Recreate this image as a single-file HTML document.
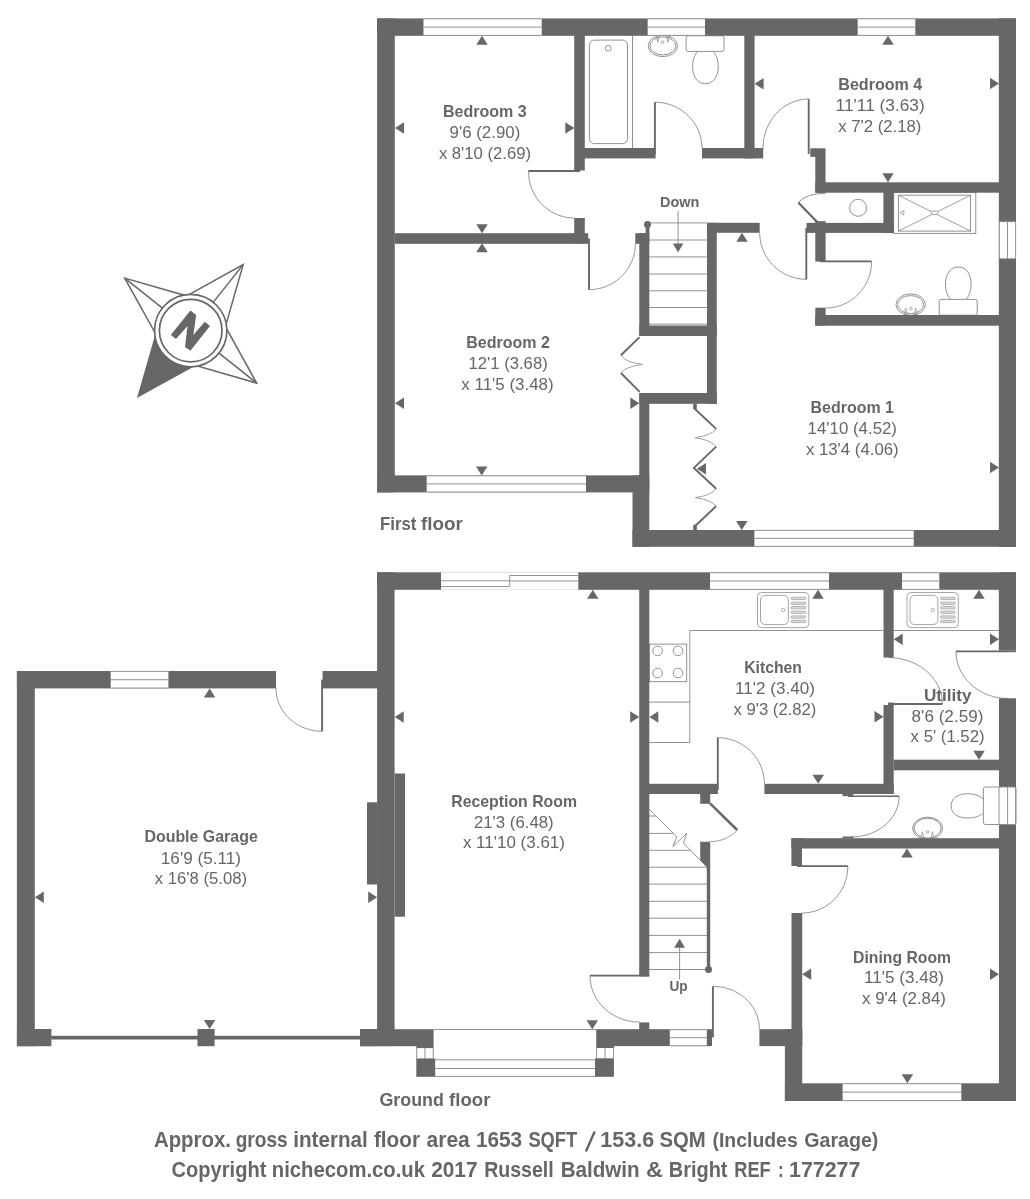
<!DOCTYPE html>
<html><head><meta charset="utf-8"><title>Floor plan</title>
<style>html,body{margin:0;padding:0;background:#fff;}svg{display:block;filter:grayscale(1);}text{font-family:"Liberation Sans",sans-serif;}</style>
</head><body>
<svg width="1030" height="1199" viewBox="0 0 1030 1199">
<rect x="0" y="0" width="1030" height="1199" fill="#ffffff"/>
<path d="M528.40,171.00 L528.44,172.85 L528.54,174.69 L528.72,176.52 L528.97,178.35 L529.28,180.17 L529.67,181.97 L530.12,183.76 L530.65,185.52 L531.24,187.27 L531.89,188.99 L532.62,190.68 L533.40,192.34 L534.25,193.97 L535.16,195.56 L536.14,197.11 L537.17,198.63 L538.25,200.10 L539.40,201.52 L540.59,202.90 L541.84,204.23 L543.14,205.51 L544.49,206.74 L545.88,207.91 L547.32,209.02 L548.80,210.08 L550.32,211.07 L551.87,212.01 L553.46,212.88 L555.08,213.68 L556.73,214.42 L558.41,215.09 L560.12,215.70 L561.84,216.24 L563.58,216.70 L565.35,217.10 L567.12,217.42 L568.91,217.67 L570.70,217.86 L572.50,217.96 L574.30,218.00" stroke="#868686" stroke-width="0.9" fill="none" />
<path d="M589.00,289.60 L590.82,289.56 L592.64,289.46 L594.45,289.28 L596.26,289.03 L598.05,288.72 L599.83,288.33 L601.59,287.87 L603.34,287.35 L605.06,286.76 L606.76,286.10 L608.43,285.37 L610.07,284.59 L611.67,283.73 L613.24,282.82 L614.78,281.85 L616.27,280.81 L617.73,279.72 L619.13,278.58 L620.50,277.38 L621.81,276.13 L623.07,274.82 L624.28,273.47 L625.44,272.08 L626.54,270.64 L627.58,269.16 L628.56,267.63 L629.48,266.08 L630.34,264.48 L631.14,262.86 L631.87,261.20 L632.53,259.52 L633.13,257.81 L633.66,256.09 L634.12,254.34 L634.51,252.57 L634.83,250.80 L635.08,249.01 L635.26,247.21 L635.36,245.41 L635.40,243.60" stroke="#868686" stroke-width="0.9" fill="none" />
<path d="M654.90,102.20 L656.75,102.24 L658.60,102.34 L660.44,102.52 L662.27,102.77 L664.09,103.09 L665.90,103.47 L667.68,103.93 L669.45,104.46 L671.20,105.05 L672.92,105.71 L674.62,106.43 L676.28,107.22 L677.91,108.08 L679.51,108.99 L681.07,109.97 L682.58,111.00 L684.06,112.10 L685.49,113.25 L686.87,114.45 L688.20,115.70 L689.49,117.01 L690.72,118.36 L691.89,119.76 L693.00,121.20 L694.06,122.69 L695.06,124.21 L695.99,125.77 L696.87,127.37 L697.67,129.00 L698.41,130.66 L699.09,132.34 L699.69,134.05 L700.23,135.79 L700.70,137.54 L701.09,139.31 L701.42,141.09 L701.67,142.88 L701.85,144.68 L701.96,146.49 L702.00,148.30" stroke="#868686" stroke-width="0.9" fill="none" />
<path d="M808.70,99.00 L806.91,99.04 L805.11,99.15 L803.33,99.34 L801.55,99.61 L799.78,99.95 L798.03,100.36 L796.30,100.85 L794.58,101.41 L792.88,102.05 L791.21,102.75 L789.57,103.53 L787.95,104.37 L786.37,105.29 L784.82,106.26 L783.31,107.31 L781.84,108.42 L780.41,109.58 L779.02,110.81 L777.68,112.10 L776.39,113.44 L775.14,114.84 L773.95,116.28 L772.81,117.78 L771.73,119.32 L770.70,120.91 L769.73,122.54 L768.83,124.21 L767.98,125.92 L767.20,127.66 L766.48,129.43 L765.82,131.24 L765.24,133.07 L764.72,134.92 L764.26,136.79 L763.88,138.68 L763.56,140.59 L763.32,142.51 L763.14,144.43 L763.04,146.36 L763.00,148.30" stroke="#868686" stroke-width="0.9" fill="none" />
<path d="M806.30,279.30 L804.47,279.26 L802.64,279.16 L800.82,278.98 L799.01,278.73 L797.21,278.40 L795.42,278.01 L793.65,277.55 L791.90,277.02 L790.17,276.42 L788.47,275.75 L786.79,275.02 L785.14,274.22 L783.53,273.36 L781.95,272.43 L780.41,271.45 L778.91,270.40 L777.45,269.30 L776.04,268.13 L774.67,266.92 L773.35,265.65 L772.08,264.33 L770.87,262.96 L769.70,261.55 L768.60,260.09 L767.55,258.59 L766.57,257.05 L765.64,255.47 L764.78,253.86 L763.98,252.21 L763.25,250.53 L762.58,248.83 L761.98,247.10 L761.45,245.35 L760.99,243.58 L760.60,241.79 L760.27,239.99 L760.02,238.18 L759.84,236.36 L759.74,234.53 L759.70,232.70" stroke="#868686" stroke-width="0.9" fill="none" />
<path d="M871.60,261.40 L871.56,263.23 L871.46,265.06 L871.28,266.88 L871.03,268.69 L870.72,270.49 L870.33,272.28 L869.88,274.05 L869.35,275.80 L868.76,277.53 L868.11,279.23 L867.38,280.91 L866.60,282.56 L865.75,284.17 L864.84,285.75 L863.86,287.29 L862.83,288.79 L861.75,290.25 L860.60,291.66 L859.41,293.03 L858.16,294.35 L856.86,295.62 L855.51,296.83 L854.12,298.00 L852.68,299.10 L851.20,300.15 L849.68,301.13 L848.13,302.06 L846.54,302.92 L844.92,303.72 L843.27,304.45 L841.59,305.12 L839.88,305.72 L838.16,306.25 L836.42,306.71 L834.65,307.10 L832.88,307.43 L831.09,307.68 L829.30,307.86 L827.50,307.96 L825.70,308.00" stroke="#868686" stroke-width="0.9" fill="none" />
<path d="M798.2,202.6 Q805.5,193.6 825.7,193.2" stroke="#868686" stroke-width="0.9" fill="none" />
<line x1="648.00" y1="222.90" x2="707.00" y2="222.90" stroke="#868686" stroke-width="0.9" stroke-linecap="butt"/>
<line x1="648.00" y1="240.00" x2="707.00" y2="240.00" stroke="#868686" stroke-width="0.9" stroke-linecap="butt"/>
<line x1="648.00" y1="256.90" x2="707.00" y2="256.90" stroke="#868686" stroke-width="0.9" stroke-linecap="butt"/>
<line x1="648.00" y1="274.00" x2="707.00" y2="274.00" stroke="#868686" stroke-width="0.9" stroke-linecap="butt"/>
<line x1="648.00" y1="290.80" x2="707.00" y2="290.80" stroke="#868686" stroke-width="0.9" stroke-linecap="butt"/>
<line x1="648.00" y1="307.50" x2="707.00" y2="307.50" stroke="#868686" stroke-width="0.9" stroke-linecap="butt"/>
<line x1="648.00" y1="324.20" x2="707.00" y2="324.20" stroke="#868686" stroke-width="0.9" stroke-linecap="butt"/>
<line x1="678.10" y1="211.20" x2="678.10" y2="244.00" stroke="#868686" stroke-width="0.9" stroke-linecap="butt"/>
<polygon points="678.10,252.20 672.80,243.50 683.40,243.50" fill="#676767"/>
<line x1="632.50" y1="35.00" x2="632.50" y2="148.00" stroke="#868686" stroke-width="0.9" stroke-linecap="butt"/>
<rect x="589.40" y="40.10" width="38.10" height="103.50" rx="5" ry="5" stroke="#868686" stroke-width="0.9" fill="none"/>
<circle cx="608.30" cy="48.30" r="2.90" stroke="#868686" stroke-width="0.9" fill="none"/>
<ellipse cx="662.90" cy="45.90" rx="14.70" ry="10.70" stroke="#868686" stroke-width="0.9" fill="none"/>
<ellipse cx="662.90" cy="45.90" rx="12.90" ry="9.00" stroke="#868686" stroke-width="0.9" fill="none"/>
<circle cx="662.50" cy="42.10" r="1.30" stroke="#868686" stroke-width="0.7" fill="none"/>
<path d="M656.4,35.8 l1.5,6.5 l1.5,-6.5 z M666.3,35.8 l1.5,6.5 l1.5,-6.5 z" stroke="#868686" stroke-width="0.7" fill="none" />
<path d="M697.7,51.4 C689.5,60 690.5,83.7 705.4,83.7 C720.3,83.7 721.3,60 713.1,51.4" stroke="#868686" stroke-width="0.9" fill="none" />
<rect x="686.10" y="35.80" width="37.90" height="15.60" rx="2" ry="2" stroke="#868686" stroke-width="0.9" fill="#fff"/>
<circle cx="858.10" cy="207.80" r="8.50" stroke="#868686" stroke-width="0.9" fill="none"/>
<rect x="893.70" y="192.60" width="82.10" height="40.80" fill="#fff"/>
<rect x="893.7" y="192.6" width="82.1" height="40.8" fill="none" stroke="#868686" stroke-width="0.9"/>
<rect x="898.4" y="195.2" width="72.2" height="35.9" fill="none" stroke="#868686" stroke-width="0.9"/>
<line x1="898.40" y1="195.20" x2="970.60" y2="231.10" stroke="#868686" stroke-width="0.8" stroke-linecap="butt"/>
<line x1="898.40" y1="231.10" x2="970.60" y2="195.20" stroke="#868686" stroke-width="0.8" stroke-linecap="butt"/>
<rect x="931.3" y="211.1" width="6.4" height="3.3" rx="1" fill="#fff" stroke="#868686" stroke-width="0.8"/>
<path d="M900.2,212.8 l3.6,-2.2 l0,4.4 z" stroke="#868686" stroke-width="0.7" fill="none" />
<path d="M950.6,299.4 C942.4,290.8 943.4,267 958.3,267 C973.2,267 974.2,290.8 966,299.4" stroke="#868686" stroke-width="0.9" fill="none" />
<rect x="939.20" y="299.40" width="38.00" height="15.80" rx="2" ry="2" stroke="#868686" stroke-width="0.9" fill="#fff"/>
<ellipse cx="910.70" cy="304.60" rx="14.70" ry="10.70" stroke="#868686" stroke-width="0.9" fill="none"/>
<ellipse cx="910.70" cy="304.60" rx="12.90" ry="9.00" stroke="#868686" stroke-width="0.9" fill="none"/>
<circle cx="911.00" cy="308.50" r="1.30" stroke="#868686" stroke-width="0.7" fill="none"/>
<path d="M904.2,314.8 l1.5,-6.5 l1.5,6.5 z M914.2,314.8 l1.5,-6.5 l1.5,6.5 z" stroke="#868686" stroke-width="0.7" fill="none" />
<rect x="377.10" y="18.40" width="17.70" height="474.00" fill="#676767"/>
<rect x="377.10" y="18.40" width="638.90" height="17.40" fill="#676767"/>
<rect x="998.80" y="18.40" width="17.20" height="528.50" fill="#676767"/>
<rect x="377.30" y="475.40" width="272.00" height="17.00" fill="#676767"/>
<rect x="632.50" y="475.40" width="16.80" height="71.40" fill="#676767"/>
<rect x="632.50" y="530.00" width="383.50" height="16.80" fill="#676767"/>
<rect x="423.50" y="18.40" width="118.20" height="17.40" fill="#ffffff"/>
<line x1="423.50" y1="18.80" x2="541.70" y2="18.80" stroke="#868686" stroke-width="0.9" stroke-linecap="butt"/>
<line x1="423.50" y1="27.10" x2="541.70" y2="27.10" stroke="#868686" stroke-width="0.9" stroke-linecap="butt"/>
<line x1="423.50" y1="35.40" x2="541.70" y2="35.40" stroke="#868686" stroke-width="0.9" stroke-linecap="butt"/>
<rect x="647.70" y="18.40" width="57.30" height="17.40" fill="#ffffff"/>
<line x1="647.70" y1="18.80" x2="705.00" y2="18.80" stroke="#868686" stroke-width="0.9" stroke-linecap="butt"/>
<line x1="647.70" y1="27.10" x2="705.00" y2="27.10" stroke="#868686" stroke-width="0.9" stroke-linecap="butt"/>
<line x1="647.70" y1="35.40" x2="705.00" y2="35.40" stroke="#868686" stroke-width="0.9" stroke-linecap="butt"/>
<rect x="857.70" y="18.40" width="57.60" height="17.40" fill="#ffffff"/>
<line x1="857.70" y1="18.80" x2="915.30" y2="18.80" stroke="#868686" stroke-width="0.9" stroke-linecap="butt"/>
<line x1="857.70" y1="27.10" x2="915.30" y2="27.10" stroke="#868686" stroke-width="0.9" stroke-linecap="butt"/>
<line x1="857.70" y1="35.40" x2="915.30" y2="35.40" stroke="#868686" stroke-width="0.9" stroke-linecap="butt"/>
<rect x="426.70" y="475.40" width="159.30" height="17.00" fill="#ffffff"/>
<line x1="426.70" y1="475.80" x2="586.00" y2="475.80" stroke="#868686" stroke-width="0.9" stroke-linecap="butt"/>
<line x1="426.70" y1="483.90" x2="586.00" y2="483.90" stroke="#868686" stroke-width="0.9" stroke-linecap="butt"/>
<line x1="426.70" y1="492.00" x2="586.00" y2="492.00" stroke="#868686" stroke-width="0.9" stroke-linecap="butt"/>
<rect x="754.40" y="530.00" width="159.30" height="16.80" fill="#ffffff"/>
<line x1="754.40" y1="530.40" x2="913.70" y2="530.40" stroke="#868686" stroke-width="0.9" stroke-linecap="butt"/>
<line x1="754.40" y1="538.40" x2="913.70" y2="538.40" stroke="#868686" stroke-width="0.9" stroke-linecap="butt"/>
<line x1="754.40" y1="546.40" x2="913.70" y2="546.40" stroke="#868686" stroke-width="0.9" stroke-linecap="butt"/>
<rect x="999.00" y="221.60" width="17.00" height="37.20" fill="#ffffff"/>
<line x1="999.40" y1="221.60" x2="999.40" y2="258.80" stroke="#868686" stroke-width="0.9" stroke-linecap="butt"/>
<line x1="1007.50" y1="221.60" x2="1007.50" y2="258.80" stroke="#868686" stroke-width="0.9" stroke-linecap="butt"/>
<line x1="1015.60" y1="221.60" x2="1015.60" y2="258.80" stroke="#868686" stroke-width="0.9" stroke-linecap="butt"/>
<line x1="999.00" y1="221.60" x2="1016.00" y2="221.60" stroke="#868686" stroke-width="0.9" stroke-linecap="butt"/>
<line x1="999.00" y1="258.80" x2="1016.00" y2="258.80" stroke="#868686" stroke-width="0.9" stroke-linecap="butt"/>
<rect x="574.20" y="35.00" width="10.60" height="135.50" fill="#676767"/>
<rect x="574.20" y="218.00" width="10.60" height="25.30" fill="#676767"/>
<rect x="584.00" y="148.00" width="71.60" height="10.40" fill="#676767"/>
<rect x="702.00" y="148.00" width="61.20" height="10.40" fill="#676767"/>
<rect x="744.30" y="35.00" width="10.30" height="123.40" fill="#676767"/>
<rect x="394.80" y="233.20" width="193.40" height="10.60" fill="#676767"/>
<rect x="635.30" y="233.20" width="14.00" height="10.60" fill="#676767"/>
<rect x="639.30" y="233.30" width="10.00" height="102.70" fill="#676767"/>
<rect x="639.30" y="393.00" width="10.00" height="83.00" fill="#676767"/>
<circle cx="647.50" cy="224.60" r="3.50" stroke="#676767" stroke-width="0" fill="#676767"/>
<rect x="645.60" y="224.60" width="3.80" height="8.90" fill="#676767"/>
<rect x="639.30" y="325.50" width="77.50" height="10.50" fill="#676767"/>
<rect x="639.30" y="393.00" width="77.50" height="10.80" fill="#676767"/>
<rect x="707.00" y="222.80" width="9.80" height="181.00" fill="#676767"/>
<rect x="707.00" y="222.80" width="52.70" height="10.00" fill="#676767"/>
<rect x="815.30" y="148.30" width="10.20" height="44.40" fill="#676767"/>
<rect x="810.30" y="148.30" width="5.70" height="8.50" fill="#676767"/>
<rect x="815.30" y="182.30" width="183.70" height="10.40" fill="#676767"/>
<rect x="883.40" y="192.00" width="10.30" height="40.90" fill="#676767"/>
<rect x="806.50" y="222.90" width="87.20" height="10.00" fill="#676767"/>
<rect x="815.30" y="221.20" width="10.30" height="40.40" fill="#676767"/>
<rect x="815.30" y="315.00" width="183.70" height="10.70" fill="#676767"/>
<rect x="815.30" y="307.70" width="10.30" height="18.00" fill="#676767"/>
<rect x="693.20" y="403.70" width="3.60" height="5.50" fill="#676767"/>
<rect x="693.20" y="524.80" width="3.60" height="5.40" fill="#676767"/>
<line x1="528.40" y1="171.00" x2="580.00" y2="171.00" stroke="#676767" stroke-width="1.9" stroke-linecap="butt"/>
<line x1="589.00" y1="238.40" x2="589.00" y2="289.70" stroke="#676767" stroke-width="1.9" stroke-linecap="butt"/>
<line x1="654.90" y1="102.20" x2="654.90" y2="154.00" stroke="#676767" stroke-width="1.9" stroke-linecap="butt"/>
<line x1="808.70" y1="99.00" x2="808.70" y2="154.00" stroke="#676767" stroke-width="1.9" stroke-linecap="butt"/>
<line x1="806.30" y1="228.00" x2="806.30" y2="279.30" stroke="#676767" stroke-width="1.9" stroke-linecap="butt"/>
<line x1="820.30" y1="261.40" x2="871.60" y2="261.40" stroke="#676767" stroke-width="1.9" stroke-linecap="butt"/>
<line x1="798.20" y1="202.60" x2="817.40" y2="222.30" stroke="#676767" stroke-width="2.2" stroke-linecap="butt"/>
<path d="M639.6,337.1 L620.9,355.3" stroke="#676767" stroke-width="1.9" fill="none" />
<path d="M620.9,373 L639.6,391.8" stroke="#676767" stroke-width="1.9" fill="none" />
<path d="M620.9,355.3 Q626,362.5 642.3,364.4 Q626,366.5 620.9,373" stroke="#868686" stroke-width="0.8" fill="none" />
<path d="M693.9,408 L716.2,428.9" stroke="#676767" stroke-width="1.9" fill="none" />
<path d="M716.2,446.6 L693.9,467.9 L716.2,488.8" stroke="#676767" stroke-width="1.9" fill="none" stroke-linejoin="miter"/>
<path d="M716.2,506.1 L694.9,526.2" stroke="#676767" stroke-width="1.9" fill="none" />
<path d="M716.2,428.9 Q711,435.5 695.3,437.7 Q711,440 716.2,446.6" stroke="#868686" stroke-width="0.8" fill="none" />
<path d="M716.2,488.8 Q711,495.5 695.3,497.6 Q711,499.8 716.2,506.1" stroke="#868686" stroke-width="0.8" fill="none" />
<polygon points="482.00,35.80 476.25,44.80 487.75,44.80" fill="#676767"/>
<polygon points="395.00,128.00 404.00,122.25 404.00,133.75" fill="#676767"/>
<polygon points="574.30,128.00 565.30,122.25 565.30,133.75" fill="#676767"/>
<polygon points="482.00,233.30 476.25,224.30 487.75,224.30" fill="#676767"/>
<polygon points="482.00,243.30 476.25,252.30 487.75,252.30" fill="#676767"/>
<polygon points="395.00,403.20 404.00,397.45 404.00,408.95" fill="#676767"/>
<polygon points="639.30,403.20 630.30,397.45 630.30,408.95" fill="#676767"/>
<polygon points="481.70,475.40 475.95,466.40 487.45,466.40" fill="#676767"/>
<polygon points="888.00,35.80 882.25,44.80 893.75,44.80" fill="#676767"/>
<polygon points="754.60,83.80 763.60,78.05 763.60,89.55" fill="#676767"/>
<polygon points="999.00,83.60 990.00,77.85 990.00,89.35" fill="#676767"/>
<polygon points="888.00,182.30 882.25,173.30 893.75,173.30" fill="#676767"/>
<polygon points="742.00,232.80 736.25,241.80 747.75,241.80" fill="#676767"/>
<polygon points="697.00,468.70 706.00,462.95 706.00,474.45" fill="#676767"/>
<polygon points="999.00,467.50 990.00,461.75 990.00,473.25" fill="#676767"/>
<polygon points="741.80,530.00 736.05,521.00 747.55,521.00" fill="#676767"/>
<polygon points="243.18,264.63 225.38,326.65 190.7,330.6 186.75,295.92" fill="none" stroke="#676767" stroke-width="1.5" stroke-linejoin="miter"/>
<line x1="243.18" y1="264.63" x2="190.70" y2="330.60" stroke="#676767" stroke-width="1.5" stroke-linecap="butt"/>
<polygon points="124.73,278.12 186.75,295.92 190.7,330.6 156.02,334.55" fill="none" stroke="#676767" stroke-width="1.5" stroke-linejoin="miter"/>
<line x1="124.73" y1="278.12" x2="190.70" y2="330.60" stroke="#676767" stroke-width="1.5" stroke-linecap="butt"/>
<polygon points="138.22,396.57 156.02,334.55 190.70,330.60 194.65,365.28" fill="#676767"/>
<polygon points="138.22,396.57 156.02,334.55 190.7,330.6 194.65,365.28" fill="none" stroke="#676767" stroke-width="1.5" stroke-linejoin="miter"/>
<polygon points="256.67,383.08 194.65,365.28 190.7,330.6 225.38,326.65" fill="none" stroke="#676767" stroke-width="1.5" stroke-linejoin="miter"/>
<line x1="256.67" y1="383.08" x2="190.70" y2="330.60" stroke="#676767" stroke-width="1.5" stroke-linecap="butt"/>
<circle cx="190.70" cy="330.60" r="36.20" stroke="#676767" stroke-width="1.7" fill="#fff"/>
<circle cx="190.70" cy="330.60" r="31.30" stroke="#676767" stroke-width="1.7" fill="none"/>
<polygon points="170.80,334.90 190.40,310.60 196.20,314.90 193.30,335.00 204.80,321.80 210.00,326.10 190.40,350.80 185.00,347.10 187.50,325.90 176.00,339.10" fill="#676767"/>
<path d="M590.00,975.60 L590.04,977.42 L590.15,979.24 L590.34,981.05 L590.61,982.86 L590.95,984.65 L591.36,986.43 L591.85,988.19 L592.41,989.94 L593.05,991.66 L593.75,993.36 L594.53,995.03 L595.37,996.67 L596.29,998.27 L597.26,999.84 L598.31,1001.38 L599.42,1002.87 L600.58,1004.33 L601.81,1005.73 L603.10,1007.10 L604.44,1008.41 L605.84,1009.67 L607.28,1010.88 L608.78,1012.04 L610.32,1013.14 L611.91,1014.18 L613.54,1015.16 L615.21,1016.08 L616.92,1016.94 L618.66,1017.74 L620.43,1018.47 L622.24,1019.13 L624.07,1019.73 L625.92,1020.26 L627.79,1020.72 L629.68,1021.11 L631.59,1021.43 L633.51,1021.68 L635.43,1021.86 L637.36,1021.96 L639.30,1022.00" stroke="#868686" stroke-width="0.9" fill="none" />
<path d="M713.00,986.40 L714.82,986.43 L716.64,986.53 L718.45,986.70 L720.26,986.92 L722.05,987.22 L723.83,987.58 L725.59,988.00 L727.34,988.48 L729.06,989.03 L730.76,989.64 L732.43,990.31 L734.07,991.04 L735.67,991.83 L737.24,992.68 L738.78,993.58 L740.27,994.54 L741.73,995.55 L743.13,996.61 L744.50,997.72 L745.81,998.88 L747.07,1000.08 L748.28,1001.33 L749.44,1002.63 L750.54,1003.96 L751.58,1005.33 L752.56,1006.74 L753.48,1008.18 L754.34,1009.66 L755.14,1011.17 L755.87,1012.70 L756.53,1014.26 L757.13,1015.84 L757.66,1017.44 L758.12,1019.06 L758.51,1020.69 L758.83,1022.34 L759.08,1023.99 L759.26,1025.66 L759.36,1027.33 L759.40,1029.00" stroke="#868686" stroke-width="0.9" fill="none" />
<path d="M717.80,737.70 L719.63,737.74 L721.46,737.84 L723.28,738.02 L725.09,738.27 L726.89,738.59 L728.68,738.98 L730.45,739.44 L732.20,739.97 L733.93,740.56 L735.63,741.22 L737.31,741.95 L738.96,742.75 L740.57,743.60 L742.15,744.52 L743.69,745.50 L745.19,746.54 L746.65,747.64 L748.06,748.79 L749.43,750.00 L750.75,751.26 L752.02,752.57 L753.23,753.93 L754.40,755.34 L755.50,756.79 L756.55,758.28 L757.53,759.81 L758.46,761.38 L759.32,762.98 L760.12,764.62 L760.85,766.28 L761.52,767.97 L762.12,769.69 L762.65,771.43 L763.11,773.19 L763.50,774.97 L763.83,776.76 L764.08,778.56 L764.26,780.37 L764.36,782.18 L764.40,784.00" stroke="#868686" stroke-width="0.9" fill="none" />
<path d="M942.40,704.00 L942.36,702.18 L942.23,700.36 L942.03,698.55 L941.74,696.74 L941.36,694.95 L940.91,693.17 L940.37,691.41 L939.76,689.66 L939.06,687.94 L938.29,686.24 L937.44,684.57 L936.51,682.93 L935.51,681.33 L934.44,679.76 L933.30,678.22 L932.09,676.73 L930.81,675.27 L929.46,673.87 L928.05,672.50 L926.58,671.19 L925.06,669.93 L923.47,668.72 L921.83,667.56 L920.14,666.46 L918.40,665.42 L916.61,664.44 L914.79,663.52 L912.92,662.66 L911.01,661.86 L909.06,661.13 L907.09,660.47 L905.09,659.87 L903.06,659.34 L901.01,658.88 L898.93,658.49 L896.85,658.17 L894.75,657.92 L892.64,657.74 L890.52,657.64 L888.40,657.60" stroke="#868686" stroke-width="0.9" fill="none" />
<path d="M956.00,651.40 L956.04,653.25 L956.16,655.09 L956.36,656.92 L956.64,658.75 L956.99,660.57 L957.43,662.37 L957.94,664.16 L958.53,665.92 L959.19,667.67 L959.93,669.39 L960.74,671.08 L961.62,672.74 L962.58,674.37 L963.60,675.96 L964.70,677.51 L965.85,679.03 L967.08,680.50 L968.36,681.92 L969.71,683.30 L971.11,684.63 L972.57,685.91 L974.09,687.14 L975.65,688.31 L977.27,689.42 L978.93,690.48 L980.64,691.47 L982.39,692.41 L984.17,693.28 L986.00,694.08 L987.85,694.82 L989.74,695.49 L991.65,696.10 L993.59,696.64 L995.55,697.10 L997.53,697.50 L999.53,697.82 L1001.54,698.07 L1003.55,698.26 L1005.57,698.36 L1007.60,698.40" stroke="#868686" stroke-width="0.9" fill="none" />
<path d="M899.10,796.40 L899.06,797.99 L898.95,799.59 L898.77,801.17 L898.51,802.75 L898.18,804.32 L897.77,805.88 L897.29,807.42 L896.75,808.95 L896.13,810.45 L895.44,811.94 L894.68,813.40 L893.86,814.83 L892.97,816.24 L892.01,817.61 L890.99,818.96 L889.91,820.26 L888.77,821.54 L887.58,822.77 L886.32,823.96 L885.01,825.11 L883.65,826.21 L882.24,827.27 L880.78,828.28 L879.27,829.25 L877.72,830.16 L876.13,831.02 L874.50,831.82 L872.84,832.57 L871.14,833.27 L869.41,833.91 L867.65,834.49 L865.86,835.01 L864.06,835.48 L862.23,835.88 L860.38,836.22 L858.52,836.50 L856.65,836.72 L854.77,836.87 L852.89,836.97 L851.00,837.00" stroke="#868686" stroke-width="0.9" fill="none" />
<path d="M847.80,866.40 L847.76,868.23 L847.66,870.06 L847.48,871.88 L847.23,873.69 L846.92,875.49 L846.53,877.28 L846.08,879.05 L845.55,880.80 L844.96,882.53 L844.31,884.23 L843.58,885.91 L842.80,887.56 L841.95,889.17 L841.04,890.75 L840.06,892.29 L839.03,893.79 L837.95,895.25 L836.80,896.66 L835.61,898.03 L834.36,899.35 L833.06,900.62 L831.71,901.83 L830.32,903.00 L828.88,904.10 L827.40,905.15 L825.88,906.13 L824.33,907.06 L822.74,907.92 L821.12,908.72 L819.47,909.45 L817.79,910.12 L816.08,910.72 L814.36,911.25 L812.62,911.71 L810.85,912.10 L809.08,912.43 L807.29,912.68 L805.50,912.86 L803.70,912.96 L801.90,913.00" stroke="#868686" stroke-width="0.9" fill="none" />
<path d="M737.42,830.09 L736.89,830.63 L736.35,831.16 L735.79,831.67 L735.23,832.18 L734.66,832.67 L734.08,833.16 L733.48,833.63 L732.88,834.09 L732.27,834.53 L731.65,834.97 L731.03,835.39 L730.39,835.80 L729.75,836.20 L729.09,836.58 L728.43,836.95 L727.77,837.31 L727.09,837.65 L726.41,837.98 L725.72,838.30 L725.03,838.60 L724.33,838.89 L723.63,839.17 L722.92,839.43 L722.20,839.67 L721.48,839.90 L720.75,840.12 L720.03,840.32 L719.29,840.51 L718.56,840.68 L717.82,840.84 L717.07,840.99 L716.33,841.12 L715.58,841.23 L714.83,841.33 L714.08,841.41 L713.32,841.48 L712.57,841.53 L711.81,841.57 L711.06,841.59 L710.30,841.60" stroke="#868686" stroke-width="0.9" fill="none" />
<path d="M322.20,731.30 L320.39,731.27 L318.58,731.17 L316.77,731.00 L314.97,730.77 L313.19,730.47 L311.41,730.11 L309.66,729.69 L307.92,729.20 L306.21,728.64 L304.52,728.03 L302.86,727.35 L301.23,726.61 L299.63,725.82 L298.06,724.96 L296.53,724.05 L295.04,723.09 L293.60,722.07 L292.20,721.00 L290.84,719.88 L289.53,718.71 L288.27,717.49 L287.07,716.23 L285.92,714.92 L284.82,713.57 L283.79,712.19 L282.81,710.77 L281.89,709.31 L281.04,707.82 L280.24,706.30 L279.52,704.76 L278.86,703.18 L278.26,701.59 L277.73,699.97 L277.28,698.34 L276.89,696.69 L276.57,695.03 L276.32,693.35 L276.14,691.67 L276.04,689.99 L276.00,688.30" stroke="#868686" stroke-width="0.9" fill="none" />
<clipPath id="stc"><polygon points="649,809.6 706.5,867 712,867 712,972 649,972"/></clipPath>
<g clip-path="url(#stc)">
<line x1="649.00" y1="816.00" x2="707.00" y2="816.00" stroke="#868686" stroke-width="0.9" stroke-linecap="butt"/>
<line x1="649.00" y1="833.40" x2="707.00" y2="833.40" stroke="#868686" stroke-width="0.9" stroke-linecap="butt"/>
<line x1="649.00" y1="850.30" x2="707.00" y2="850.30" stroke="#868686" stroke-width="0.9" stroke-linecap="butt"/>
<line x1="649.00" y1="867.20" x2="707.00" y2="867.20" stroke="#868686" stroke-width="0.9" stroke-linecap="butt"/>
<line x1="649.00" y1="884.10" x2="707.00" y2="884.10" stroke="#868686" stroke-width="0.9" stroke-linecap="butt"/>
<line x1="649.00" y1="901.30" x2="707.00" y2="901.30" stroke="#868686" stroke-width="0.9" stroke-linecap="butt"/>
<line x1="649.00" y1="918.20" x2="707.00" y2="918.20" stroke="#868686" stroke-width="0.9" stroke-linecap="butt"/>
<line x1="649.00" y1="935.40" x2="707.00" y2="935.40" stroke="#868686" stroke-width="0.9" stroke-linecap="butt"/>
<line x1="649.00" y1="952.60" x2="707.00" y2="952.60" stroke="#868686" stroke-width="0.9" stroke-linecap="butt"/>
<line x1="649.00" y1="969.50" x2="707.00" y2="969.50" stroke="#868686" stroke-width="0.9" stroke-linecap="butt"/>
</g>
<path d="M649.1,809.2 L676.8,836.8 L672.9,846.6 L686.7,833.3 L683.5,843.1 L706.7,866.9" stroke="#868686" stroke-width="0.9" fill="none" />
<line x1="679.60" y1="947.00" x2="679.60" y2="979.50" stroke="#868686" stroke-width="0.9" stroke-linecap="butt"/>
<polygon points="679.60,938.80 674.20,947.80 685.00,947.80" fill="#676767"/>
<line x1="689.80" y1="630.50" x2="883.50" y2="630.50" stroke="#868686" stroke-width="0.9" stroke-linecap="butt"/>
<line x1="893.70" y1="630.50" x2="999.00" y2="630.50" stroke="#868686" stroke-width="0.9" stroke-linecap="butt"/>
<line x1="689.80" y1="630.50" x2="689.80" y2="742.50" stroke="#868686" stroke-width="0.9" stroke-linecap="butt"/>
<line x1="649.00" y1="742.50" x2="689.80" y2="742.50" stroke="#868686" stroke-width="0.9" stroke-linecap="butt"/>
<line x1="649.00" y1="702.10" x2="689.80" y2="702.10" stroke="#868686" stroke-width="0.9" stroke-linecap="butt"/>
<rect x="649.4" y="644.1" width="37.3" height="37.6" fill="none" stroke="#868686" stroke-width="0.9"/>
<circle cx="657.60" cy="650.90" r="4.80" stroke="#868686" stroke-width="0.9" fill="none"/>
<circle cx="678.00" cy="650.90" r="4.80" stroke="#868686" stroke-width="0.9" fill="none"/>
<circle cx="657.60" cy="673.00" r="4.80" stroke="#868686" stroke-width="0.9" fill="none"/>
<circle cx="678.00" cy="673.00" r="4.80" stroke="#868686" stroke-width="0.9" fill="none"/>
<rect x="757.50" y="592.50" width="51.30" height="35.10" rx="3.9" ry="3.9" stroke="#9c9c9c" stroke-width="0.9" fill="none"/>
<rect x="760.50" y="595.30" width="27.90" height="29.30" rx="4.7" ry="4.7" stroke="#9c9c9c" stroke-width="0.9" fill="none"/>
<circle cx="783.20" cy="610.00" r="1.70" stroke="#9c9c9c" stroke-width="0.8" fill="none"/>
<rect x="791.00" y="597.25" width="14.90" height="2.30" rx="1.15" ry="1.15" stroke="#9c9c9c" stroke-width="0.7" fill="#dcdcdc"/>
<rect x="791.00" y="602.15" width="14.90" height="2.30" rx="1.15" ry="1.15" stroke="#9c9c9c" stroke-width="0.7" fill="#dcdcdc"/>
<rect x="791.00" y="606.55" width="14.90" height="2.30" rx="1.15" ry="1.15" stroke="#9c9c9c" stroke-width="0.7" fill="#dcdcdc"/>
<rect x="791.00" y="611.15" width="14.90" height="2.30" rx="1.15" ry="1.15" stroke="#9c9c9c" stroke-width="0.7" fill="#dcdcdc"/>
<rect x="791.00" y="615.85" width="14.90" height="2.30" rx="1.15" ry="1.15" stroke="#9c9c9c" stroke-width="0.7" fill="#dcdcdc"/>
<rect x="791.00" y="620.35" width="14.90" height="2.30" rx="1.15" ry="1.15" stroke="#9c9c9c" stroke-width="0.7" fill="#dcdcdc"/>
<rect x="907.00" y="592.50" width="51.30" height="35.10" rx="3.9" ry="3.9" stroke="#9c9c9c" stroke-width="0.9" fill="none"/>
<rect x="910.00" y="595.30" width="27.90" height="29.30" rx="4.7" ry="4.7" stroke="#9c9c9c" stroke-width="0.9" fill="none"/>
<circle cx="932.70" cy="610.00" r="1.70" stroke="#9c9c9c" stroke-width="0.8" fill="none"/>
<rect x="940.50" y="597.25" width="14.90" height="2.30" rx="1.15" ry="1.15" stroke="#9c9c9c" stroke-width="0.7" fill="#dcdcdc"/>
<rect x="940.50" y="602.15" width="14.90" height="2.30" rx="1.15" ry="1.15" stroke="#9c9c9c" stroke-width="0.7" fill="#dcdcdc"/>
<rect x="940.50" y="606.55" width="14.90" height="2.30" rx="1.15" ry="1.15" stroke="#9c9c9c" stroke-width="0.7" fill="#dcdcdc"/>
<rect x="940.50" y="611.15" width="14.90" height="2.30" rx="1.15" ry="1.15" stroke="#9c9c9c" stroke-width="0.7" fill="#dcdcdc"/>
<rect x="940.50" y="615.85" width="14.90" height="2.30" rx="1.15" ry="1.15" stroke="#9c9c9c" stroke-width="0.7" fill="#dcdcdc"/>
<rect x="940.50" y="620.35" width="14.90" height="2.30" rx="1.15" ry="1.15" stroke="#9c9c9c" stroke-width="0.7" fill="#dcdcdc"/>
<path d="M983.3,798.9 C975,791 951.1,791.3 951.1,805.9 C951.1,820.5 975,820.8 983.3,813.1" stroke="#868686" stroke-width="0.9" fill="none" />
<ellipse cx="927.60" cy="828.40" rx="15.00" ry="11.30" stroke="#868686" stroke-width="0.9" fill="none"/>
<ellipse cx="927.60" cy="828.20" rx="13.50" ry="9.90" stroke="#868686" stroke-width="0.9" fill="none"/>
<circle cx="927.50" cy="832.00" r="1.30" stroke="#868686" stroke-width="0.7" fill="none"/>
<path d="M921,838.3 l1.5,-6.5 l1.5,6.5 z M931,838.3 l1.5,-6.5 l1.5,6.5 z" stroke="#868686" stroke-width="0.7" fill="none" />
<rect x="377.10" y="572.30" width="638.90" height="17.50" fill="#676767"/>
<rect x="377.10" y="572.30" width="17.50" height="473.80" fill="#676767"/>
<rect x="394.60" y="773.50" width="10.40" height="143.20" fill="#676767"/>
<rect x="367.00" y="802.30" width="10.30" height="82.20" fill="#676767"/>
<rect x="639.20" y="589.00" width="10.10" height="387.40" fill="#676767"/>
<rect x="639.20" y="1022.40" width="10.10" height="7.60" fill="#676767"/>
<rect x="998.80" y="572.30" width="17.20" height="78.30" fill="#676767"/>
<rect x="1007.00" y="650.60" width="9.00" height="1.60" fill="#676767"/>
<rect x="999.00" y="698.30" width="17.00" height="402.70" fill="#676767"/>
<rect x="883.50" y="589.00" width="10.20" height="68.60" fill="#676767"/>
<rect x="883.50" y="705.00" width="10.20" height="89.00" fill="#676767"/>
<rect x="888.00" y="702.60" width="5.70" height="2.40" fill="#676767"/>
<rect x="893.70" y="759.70" width="105.30" height="10.60" fill="#676767"/>
<rect x="649.00" y="783.80" width="68.90" height="10.20" fill="#676767"/>
<rect x="764.40" y="783.80" width="129.30" height="10.20" fill="#676767"/>
<rect x="700.20" y="794.00" width="10.00" height="9.80" fill="#676767"/>
<polygon points="700.20,841.80 710.20,841.80 710.20,969.50 706.80,969.50 706.80,866.80 700.20,860.20" fill="#676767"/>
<circle cx="708.50" cy="969.60" r="3.50" stroke="#676767" stroke-width="0" fill="#676767"/>
<rect x="791.40" y="838.20" width="207.60" height="10.30" fill="#676767"/>
<rect x="791.40" y="838.20" width="10.60" height="27.80" fill="#676767"/>
<rect x="791.50" y="913.00" width="10.70" height="133.10" fill="#676767"/>
<rect x="784.90" y="1029.20" width="17.30" height="71.80" fill="#676767"/>
<rect x="784.90" y="1083.30" width="231.10" height="17.70" fill="#676767"/>
<rect x="360.10" y="1029.20" width="73.50" height="17.00" fill="#676767"/>
<rect x="596.20" y="1029.20" width="115.80" height="16.90" fill="#676767"/>
<rect x="759.40" y="1029.20" width="42.80" height="16.90" fill="#676767"/>
<rect x="416.30" y="1046.00" width="17.30" height="2.10" fill="#676767"/>
<rect x="596.20" y="1046.00" width="17.70" height="2.00" fill="#676767"/>
<rect x="416.30" y="1058.40" width="18.90" height="18.40" fill="#676767"/>
<rect x="595.00" y="1058.30" width="18.90" height="18.50" fill="#676767"/>
<line x1="416.70" y1="1048.00" x2="416.70" y2="1058.40" stroke="#868686" stroke-width="0.9" stroke-linecap="butt"/>
<line x1="424.95" y1="1048.00" x2="424.95" y2="1058.40" stroke="#868686" stroke-width="0.9" stroke-linecap="butt"/>
<line x1="433.20" y1="1048.00" x2="433.20" y2="1058.40" stroke="#868686" stroke-width="0.9" stroke-linecap="butt"/>
<line x1="596.60" y1="1048.00" x2="596.60" y2="1058.40" stroke="#868686" stroke-width="0.9" stroke-linecap="butt"/>
<line x1="605.05" y1="1048.00" x2="605.05" y2="1058.40" stroke="#868686" stroke-width="0.9" stroke-linecap="butt"/>
<line x1="613.50" y1="1048.00" x2="613.50" y2="1058.40" stroke="#868686" stroke-width="0.9" stroke-linecap="butt"/>
<line x1="435.20" y1="1059.80" x2="595.00" y2="1059.80" stroke="#868686" stroke-width="0.9" stroke-linecap="butt"/>
<line x1="435.20" y1="1068.50" x2="595.00" y2="1068.50" stroke="#868686" stroke-width="0.9" stroke-linecap="butt"/>
<line x1="435.20" y1="1076.40" x2="595.00" y2="1076.40" stroke="#868686" stroke-width="0.9" stroke-linecap="butt"/>
<line x1="433.60" y1="1029.50" x2="596.20" y2="1029.50" stroke="#868686" stroke-width="0.9" stroke-linecap="butt"/>
<rect x="710.00" y="572.30" width="119.00" height="17.50" fill="#ffffff"/>
<line x1="710.00" y1="572.70" x2="829.00" y2="572.70" stroke="#868686" stroke-width="0.9" stroke-linecap="butt"/>
<line x1="710.00" y1="581.05" x2="829.00" y2="581.05" stroke="#868686" stroke-width="0.9" stroke-linecap="butt"/>
<line x1="710.00" y1="589.40" x2="829.00" y2="589.40" stroke="#868686" stroke-width="0.9" stroke-linecap="butt"/>
<rect x="902.00" y="572.30" width="37.30" height="17.50" fill="#ffffff"/>
<line x1="902.00" y1="572.70" x2="939.30" y2="572.70" stroke="#868686" stroke-width="0.9" stroke-linecap="butt"/>
<line x1="902.00" y1="581.05" x2="939.30" y2="581.05" stroke="#868686" stroke-width="0.9" stroke-linecap="butt"/>
<line x1="902.00" y1="589.40" x2="939.30" y2="589.40" stroke="#868686" stroke-width="0.9" stroke-linecap="butt"/>
<rect x="842.60" y="1083.30" width="118.70" height="17.70" fill="#ffffff"/>
<line x1="842.60" y1="1083.70" x2="961.30" y2="1083.70" stroke="#868686" stroke-width="0.9" stroke-linecap="butt"/>
<line x1="842.60" y1="1092.15" x2="961.30" y2="1092.15" stroke="#868686" stroke-width="0.9" stroke-linecap="butt"/>
<line x1="842.60" y1="1100.60" x2="961.30" y2="1100.60" stroke="#868686" stroke-width="0.9" stroke-linecap="butt"/>
<rect x="669.80" y="1029.20" width="37.00" height="16.90" fill="#ffffff"/>
<line x1="669.80" y1="1029.60" x2="706.80" y2="1029.60" stroke="#868686" stroke-width="0.9" stroke-linecap="butt"/>
<line x1="669.80" y1="1037.65" x2="706.80" y2="1037.65" stroke="#868686" stroke-width="0.9" stroke-linecap="butt"/>
<line x1="669.80" y1="1045.70" x2="706.80" y2="1045.70" stroke="#868686" stroke-width="0.9" stroke-linecap="butt"/>
<rect x="441.00" y="572.30" width="137.30" height="17.50" fill="#fff"/>
<line x1="441.00" y1="580.80" x2="509.70" y2="580.80" stroke="#868686" stroke-width="0.9" stroke-linecap="butt"/>
<line x1="441.00" y1="586.60" x2="509.70" y2="586.60" stroke="#868686" stroke-width="0.9" stroke-linecap="butt"/>
<line x1="509.70" y1="575.50" x2="578.30" y2="575.50" stroke="#868686" stroke-width="0.9" stroke-linecap="butt"/>
<line x1="509.70" y1="581.00" x2="578.30" y2="581.00" stroke="#868686" stroke-width="0.9" stroke-linecap="butt"/>
<line x1="509.70" y1="575.50" x2="509.70" y2="586.60" stroke="#868686" stroke-width="0.9" stroke-linecap="butt"/>
<rect x="999.00" y="787.00" width="17.00" height="37.60" fill="#fff"/>
<rect x="983.40" y="787.00" width="32.60" height="37.50" rx="2" ry="2" stroke="#868686" stroke-width="0.9" fill="#fff"/>
<line x1="999.00" y1="787.00" x2="999.00" y2="824.50" stroke="#868686" stroke-width="0.9" stroke-linecap="butt"/>
<line x1="1007.60" y1="787.00" x2="1007.60" y2="824.50" stroke="#868686" stroke-width="0.9" stroke-linecap="butt"/>
<line x1="1015.60" y1="787.00" x2="1015.60" y2="824.50" stroke="#868686" stroke-width="0.9" stroke-linecap="butt"/>
<line x1="590.00" y1="975.60" x2="649.30" y2="975.60" stroke="#676767" stroke-width="1.9" stroke-linecap="butt"/>
<line x1="712.90" y1="986.40" x2="712.90" y2="1037.50" stroke="#676767" stroke-width="1.9" stroke-linecap="butt"/>
<line x1="717.80" y1="737.70" x2="717.80" y2="790.00" stroke="#676767" stroke-width="1.9" stroke-linecap="butt"/>
<line x1="888.40" y1="704.00" x2="942.40" y2="704.00" stroke="#676767" stroke-width="1.9" stroke-linecap="butt"/>
<line x1="956.00" y1="651.40" x2="1007.60" y2="651.40" stroke="#676767" stroke-width="1.9" stroke-linecap="butt"/>
<line x1="848.10" y1="796.20" x2="899.10" y2="796.20" stroke="#676767" stroke-width="1.6" stroke-linecap="butt"/>
<rect x="842.60" y="793.80" width="10.60" height="2.40" fill="#676767"/>
<rect x="842.60" y="836.50" width="10.60" height="1.90" fill="#676767"/>
<line x1="797.10" y1="866.20" x2="847.80" y2="866.20" stroke="#676767" stroke-width="1.7" stroke-linecap="butt"/>
<line x1="710.00" y1="803.40" x2="737.20" y2="830.00" stroke="#676767" stroke-width="2.5" stroke-linecap="butt"/>
<line x1="322.10" y1="679.60" x2="322.10" y2="731.30" stroke="#676767" stroke-width="1.9" stroke-linecap="butt"/>
<rect x="16.90" y="671.00" width="17.90" height="375.20" fill="#676767"/>
<rect x="16.90" y="671.00" width="259.10" height="17.40" fill="#676767"/>
<rect x="322.60" y="671.00" width="55.40" height="17.40" fill="#676767"/>
<rect x="110.70" y="671.00" width="57.70" height="17.40" fill="#ffffff"/>
<line x1="110.70" y1="671.40" x2="168.40" y2="671.40" stroke="#868686" stroke-width="0.9" stroke-linecap="butt"/>
<line x1="110.70" y1="679.70" x2="168.40" y2="679.70" stroke="#868686" stroke-width="0.9" stroke-linecap="butt"/>
<line x1="110.70" y1="688.00" x2="168.40" y2="688.00" stroke="#868686" stroke-width="0.9" stroke-linecap="butt"/>
<rect x="16.90" y="1029.00" width="34.50" height="17.20" fill="#676767"/>
<rect x="197.50" y="1029.00" width="17.10" height="17.20" fill="#676767"/>
<rect x="360.10" y="1029.10" width="17.90" height="17.10" fill="#676767"/>
<rect x="51.20" y="1035.80" width="309.00" height="3.70" fill="#676767"/>
<polygon points="592.80,589.80 587.05,598.80 598.55,598.80" fill="#676767"/>
<polygon points="394.70,717.10 403.70,711.35 403.70,722.85" fill="#676767"/>
<polygon points="639.20,717.10 630.20,711.35 630.20,722.85" fill="#676767"/>
<polygon points="592.30,1029.20 586.55,1020.20 598.05,1020.20" fill="#676767"/>
<polygon points="818.00,589.80 812.25,598.80 823.75,598.80" fill="#676767"/>
<polygon points="649.30,717.10 658.30,711.35 658.30,722.85" fill="#676767"/>
<polygon points="883.50,716.70 874.50,710.95 874.50,722.45" fill="#676767"/>
<polygon points="818.20,783.80 812.45,774.80 823.95,774.80" fill="#676767"/>
<polygon points="979.00,589.80 973.25,598.80 984.75,598.80" fill="#676767"/>
<polygon points="893.70,639.30 902.70,633.55 902.70,645.05" fill="#676767"/>
<polygon points="999.00,639.30 990.00,633.55 990.00,645.05" fill="#676767"/>
<polygon points="979.00,759.70 973.25,750.70 984.75,750.70" fill="#676767"/>
<polygon points="907.00,848.50 901.25,857.50 912.75,857.50" fill="#676767"/>
<polygon points="802.20,974.30 811.20,968.55 811.20,980.05" fill="#676767"/>
<polygon points="999.00,974.30 990.00,968.55 990.00,980.05" fill="#676767"/>
<polygon points="907.40,1083.30 901.65,1074.30 913.15,1074.30" fill="#676767"/>
<polygon points="209.60,688.40 203.85,697.40 215.35,697.40" fill="#676767"/>
<polygon points="34.80,897.30 43.80,891.55 43.80,903.05" fill="#676767"/>
<polygon points="377.20,897.30 368.20,891.55 368.20,903.05" fill="#676767"/>
<polygon points="209.60,1029.00 203.85,1020.00 215.35,1020.00" fill="#676767"/>
<text x="442.90" y="117.30" font-family="'Liberation Sans', sans-serif" font-size="16.4" font-weight="bold" fill="#666666" textLength="83.80" lengthAdjust="spacingAndGlyphs">Bedroom 3</text>
<text x="449.60" y="138.30" font-family="'Liberation Sans', sans-serif" font-size="15.8" font-weight="normal" fill="#666666" textLength="70.70" lengthAdjust="spacingAndGlyphs">9'6 (2.90)</text>
<text x="438.90" y="159.00" font-family="'Liberation Sans', sans-serif" font-size="15.8" font-weight="normal" fill="#666666" textLength="92.10" lengthAdjust="spacingAndGlyphs">x 8'10 (2.69)</text>
<text x="466.30" y="348.30" font-family="'Liberation Sans', sans-serif" font-size="16.4" font-weight="bold" fill="#666666" textLength="83.70" lengthAdjust="spacingAndGlyphs">Bedroom 2</text>
<text x="468.60" y="369.30" font-family="'Liberation Sans', sans-serif" font-size="15.8" font-weight="normal" fill="#666666" textLength="79.10" lengthAdjust="spacingAndGlyphs">12'1 (3.68)</text>
<text x="461.30" y="390.00" font-family="'Liberation Sans', sans-serif" font-size="15.8" font-weight="normal" fill="#666666" textLength="92.40" lengthAdjust="spacingAndGlyphs">x 11'5 (3.48)</text>
<text x="838.30" y="90.00" font-family="'Liberation Sans', sans-serif" font-size="16.4" font-weight="bold" fill="#666666" textLength="84.00" lengthAdjust="spacingAndGlyphs">Bedroom 4</text>
<text x="835.60" y="111.00" font-family="'Liberation Sans', sans-serif" font-size="15.8" font-weight="normal" fill="#666666" textLength="89.10" lengthAdjust="spacingAndGlyphs">11'11 (3.63)</text>
<text x="838.30" y="131.70" font-family="'Liberation Sans', sans-serif" font-size="15.8" font-weight="normal" fill="#666666" textLength="83.00" lengthAdjust="spacingAndGlyphs">x 7'2 (2.18)</text>
<text x="810.60" y="413.30" font-family="'Liberation Sans', sans-serif" font-size="16.4" font-weight="bold" fill="#666666" textLength="83.40" lengthAdjust="spacingAndGlyphs">Bedroom 1</text>
<text x="807.60" y="434.00" font-family="'Liberation Sans', sans-serif" font-size="15.8" font-weight="normal" fill="#666666" textLength="89.40" lengthAdjust="spacingAndGlyphs">14'10 (4.52)</text>
<text x="805.90" y="455.00" font-family="'Liberation Sans', sans-serif" font-size="15.8" font-weight="normal" fill="#666666" textLength="92.80" lengthAdjust="spacingAndGlyphs">x 13'4 (4.06)</text>
<text x="744.20" y="673.00" font-family="'Liberation Sans', sans-serif" font-size="16.4" font-weight="bold" fill="#666666" textLength="57.70" lengthAdjust="spacingAndGlyphs">Kitchen</text>
<text x="735.00" y="694.00" font-family="'Liberation Sans', sans-serif" font-size="15.8" font-weight="normal" fill="#666666" textLength="79.90" lengthAdjust="spacingAndGlyphs">11'2 (3.40)</text>
<text x="733.50" y="714.80" font-family="'Liberation Sans', sans-serif" font-size="15.8" font-weight="normal" fill="#666666" textLength="82.90" lengthAdjust="spacingAndGlyphs">x 9'3 (2.82)</text>
<text x="451.30" y="806.70" font-family="'Liberation Sans', sans-serif" font-size="16.4" font-weight="bold" fill="#666666" textLength="125.70" lengthAdjust="spacingAndGlyphs">Reception Room</text>
<text x="473.90" y="827.70" font-family="'Liberation Sans', sans-serif" font-size="15.8" font-weight="normal" fill="#666666" textLength="79.80" lengthAdjust="spacingAndGlyphs">21'3 (6.48)</text>
<text x="462.90" y="848.30" font-family="'Liberation Sans', sans-serif" font-size="15.8" font-weight="normal" fill="#666666" textLength="102.10" lengthAdjust="spacingAndGlyphs">x 11'10 (3.61)</text>
<text x="144.40" y="842.20" font-family="'Liberation Sans', sans-serif" font-size="16.4" font-weight="bold" fill="#666666" textLength="113.40" lengthAdjust="spacingAndGlyphs">Double Garage</text>
<text x="160.80" y="863.60" font-family="'Liberation Sans', sans-serif" font-size="15.8" font-weight="normal" fill="#666666" textLength="80.20" lengthAdjust="spacingAndGlyphs">16'9 (5.11)</text>
<text x="154.80" y="884.30" font-family="'Liberation Sans', sans-serif" font-size="15.8" font-weight="normal" fill="#666666" textLength="92.20" lengthAdjust="spacingAndGlyphs">x 16'8 (5.08)</text>
<text x="853.10" y="962.60" font-family="'Liberation Sans', sans-serif" font-size="16.4" font-weight="bold" fill="#666666" textLength="97.90" lengthAdjust="spacingAndGlyphs">Dining Room</text>
<text x="864.10" y="983.30" font-family="'Liberation Sans', sans-serif" font-size="15.8" font-weight="normal" fill="#666666" textLength="79.90" lengthAdjust="spacingAndGlyphs">11'5 (3.48)</text>
<text x="862.10" y="1003.90" font-family="'Liberation Sans', sans-serif" font-size="15.8" font-weight="normal" fill="#666666" textLength="83.90" lengthAdjust="spacingAndGlyphs">x 9'4 (2.84)</text>
<text x="924.00" y="701.00" font-family="'Liberation Sans', sans-serif" font-size="16.4" font-weight="bold" fill="#666666" textLength="47.60" lengthAdjust="spacingAndGlyphs">Utility</text>
<text x="911.60" y="721.60" font-family="'Liberation Sans', sans-serif" font-size="15.8" font-weight="normal" fill="#666666" textLength="71.80" lengthAdjust="spacingAndGlyphs">8'6 (2.59)</text>
<text x="910.60" y="742.00" font-family="'Liberation Sans', sans-serif" font-size="15.8" font-weight="normal" fill="#666666" textLength="74.00" lengthAdjust="spacingAndGlyphs">x 5' (1.52)</text>
<text x="660.00" y="206.80" font-family="'Liberation Sans', sans-serif" font-size="14.2" font-weight="bold" fill="#666666" textLength="39.30" lengthAdjust="spacingAndGlyphs">Down</text>
<text x="669.40" y="990.60" font-family="'Liberation Sans', sans-serif" font-size="14.2" font-weight="bold" fill="#666666" textLength="18.20" lengthAdjust="spacingAndGlyphs">Up</text>
<text x="153.90" y="1147.00" font-family="'Liberation Sans', sans-serif" font-size="22" font-weight="bold" fill="#666666" textLength="77.10" lengthAdjust="spacingAndGlyphs">Approx.</text>
<text x="235.70" y="1147.00" font-family="'Liberation Sans', sans-serif" font-size="22" font-weight="bold" fill="#666666" textLength="51.90" lengthAdjust="spacingAndGlyphs">gross</text>
<text x="293.20" y="1147.00" font-family="'Liberation Sans', sans-serif" font-size="22" font-weight="bold" fill="#666666" textLength="74.60" lengthAdjust="spacingAndGlyphs">internal</text>
<text x="373.90" y="1147.00" font-family="'Liberation Sans', sans-serif" font-size="22" font-weight="bold" fill="#666666" textLength="46.10" lengthAdjust="spacingAndGlyphs">floor</text>
<text x="426.60" y="1147.00" font-family="'Liberation Sans', sans-serif" font-size="22" font-weight="bold" fill="#666666" textLength="43.10" lengthAdjust="spacingAndGlyphs">area</text>
<text x="475.90" y="1147.00" font-family="'Liberation Sans', sans-serif" font-size="22" font-weight="bold" fill="#666666" textLength="46.30" lengthAdjust="spacingAndGlyphs">1653</text>
<text x="528.40" y="1147.00" font-family="'Liberation Sans', sans-serif" font-size="22" font-weight="bold" fill="#666666" textLength="48.80" lengthAdjust="spacingAndGlyphs">SQFT</text>
<text x="600.30" y="1147.00" font-family="'Liberation Sans', sans-serif" font-size="22" font-weight="bold" fill="#666666" textLength="53.80" lengthAdjust="spacingAndGlyphs">153.6</text>
<text x="659.40" y="1147.00" font-family="'Liberation Sans', sans-serif" font-size="22" font-weight="bold" fill="#666666" textLength="46.30" lengthAdjust="spacingAndGlyphs">SQM</text>
<text x="712.50" y="1147.30" font-family="'Liberation Sans', sans-serif" font-size="19.8" font-weight="bold" fill="#666666" textLength="85.20" lengthAdjust="spacingAndGlyphs">(Includes</text>
<text x="804.20" y="1147.30" font-family="'Liberation Sans', sans-serif" font-size="19.8" font-weight="bold" fill="#666666" textLength="74.20" lengthAdjust="spacingAndGlyphs">Garage)</text>
<line x1="585.90" y1="1151.60" x2="594.70" y2="1131.40" stroke="#666666" stroke-width="2.4" stroke-linecap="butt"/>
<text x="380.00" y="529.60" font-family="'Liberation Sans', sans-serif" font-size="19.2" font-weight="bold" fill="#666666" textLength="36.40" lengthAdjust="spacingAndGlyphs">First</text>
<text x="421.00" y="529.60" font-family="'Liberation Sans', sans-serif" font-size="19.2" font-weight="bold" fill="#666666" textLength="41.80" lengthAdjust="spacingAndGlyphs">floor</text>
<text x="379.40" y="1106.40" font-family="'Liberation Sans', sans-serif" font-size="19.2" font-weight="bold" fill="#666666" textLength="64.50" lengthAdjust="spacingAndGlyphs">Ground</text>
<text x="449.10" y="1106.40" font-family="'Liberation Sans', sans-serif" font-size="19.2" font-weight="bold" fill="#666666" textLength="41.30" lengthAdjust="spacingAndGlyphs">floor</text>
<text x="171.60" y="1176.90" font-family="'Liberation Sans', sans-serif" font-size="22" font-weight="bold" fill="#666666" textLength="94.80" lengthAdjust="spacingAndGlyphs">Copyright</text>
<text x="271.80" y="1176.90" font-family="'Liberation Sans', sans-serif" font-size="22" font-weight="bold" fill="#666666" textLength="153.20" lengthAdjust="spacingAndGlyphs">nichecom.co.uk</text>
<text x="431.20" y="1176.90" font-family="'Liberation Sans', sans-serif" font-size="22" font-weight="bold" fill="#666666" textLength="46.30" lengthAdjust="spacingAndGlyphs">2017</text>
<text x="484.20" y="1176.90" font-family="'Liberation Sans', sans-serif" font-size="22" font-weight="bold" fill="#666666" textLength="69.50" lengthAdjust="spacingAndGlyphs">Russell</text>
<text x="560.70" y="1176.90" font-family="'Liberation Sans', sans-serif" font-size="22" font-weight="bold" fill="#666666" textLength="78.90" lengthAdjust="spacingAndGlyphs">Baldwin</text>
<text x="646.00" y="1176.90" font-family="'Liberation Sans', sans-serif" font-size="22" font-weight="bold" fill="#666666" textLength="16.90" lengthAdjust="spacingAndGlyphs">&amp;</text>
<text x="668.80" y="1176.90" font-family="'Liberation Sans', sans-serif" font-size="22" font-weight="bold" fill="#666666" textLength="58.70" lengthAdjust="spacingAndGlyphs">Bright</text>
<text x="734.30" y="1176.90" font-family="'Liberation Sans', sans-serif" font-size="22" font-weight="bold" fill="#666666" textLength="36.40" lengthAdjust="spacingAndGlyphs">REF</text>
<text x="778.00" y="1176.90" font-family="'Liberation Sans', sans-serif" font-size="22" font-weight="bold" fill="#666666" textLength="5.70" lengthAdjust="spacingAndGlyphs">:</text>
<text x="789.10" y="1176.90" font-family="'Liberation Sans', sans-serif" font-size="22" font-weight="bold" fill="#666666" textLength="71.30" lengthAdjust="spacingAndGlyphs">177277</text>
</svg>
</body></html>
